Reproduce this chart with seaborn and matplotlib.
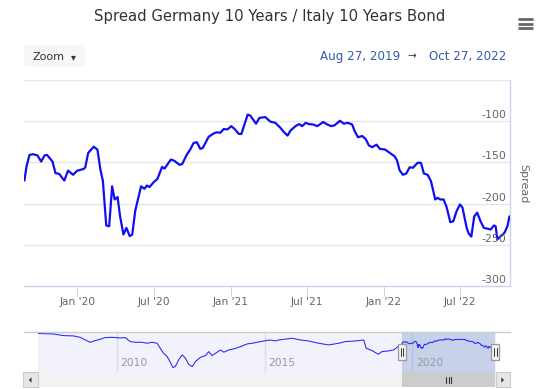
import numpy as np
import pandas as pd
import matplotlib
matplotlib.use("Agg")
import matplotlib.pyplot as plt
import matplotlib.dates as mdates
from matplotlib.patches import Rectangle, FancyBboxPatch, Polygon
from matplotlib.lines import Line2D
import seaborn as sns

# ---------------- data ----------------
title = "Spread Germany 10 Years / Italy 10 Years Bond"
y_label = "Spread"
range_start_text = "Aug 27, 2019"
range_end_text = "Oct 27, 2022"
range_start = "2019-08-27"
range_end = "2022-10-27"
y_ticks = [-300, -250, -200, -150, -100, -50]
y_tick_labels = ["-300", "-250", "-200", "-150", "-100", ""]

main_dates = [
    "2019-08-28", "2019-09-02", "2019-09-09", "2019-09-17", "2019-09-28", "2019-10-07",
    "2019-10-15", "2019-10-21", "2019-11-03", "2019-11-10", "2019-11-19", "2019-12-01",
    "2019-12-10", "2019-12-22", "2020-01-01", "2020-01-16", "2020-01-20", "2020-01-27",
    "2020-02-09", "2020-02-18", "2020-02-25", "2020-03-02", "2020-03-10", "2020-03-17",
    "2020-03-24", "2020-03-30", "2020-04-06", "2020-04-12", "2020-04-20", "2020-04-27",
    "2020-05-05", "2020-05-11", "2020-05-18", "2020-06-01", "2020-06-09", "2020-06-15",
    "2020-06-21", "2020-07-01", "2020-07-10", "2020-07-21", "2020-07-27", "2020-08-11",
    "2020-08-19", "2020-09-01", "2020-09-07", "2020-09-18", "2020-09-26", "2020-10-04",
    "2020-10-12", "2020-10-20", "2020-10-26", "2020-11-09", "2020-11-19", "2020-11-27",
    "2020-12-07", "2020-12-15", "2020-12-24", "2021-01-02", "2021-01-10", "2021-01-20",
    "2021-01-26", "2021-02-10", "2021-02-16", "2021-03-02", "2021-03-10", "2021-03-24",
    "2021-04-05", "2021-04-17", "2021-04-29", "2021-05-07", "2021-05-16", "2021-05-23",
    "2021-06-04", "2021-06-13", "2021-06-20", "2021-06-28", "2021-07-06", "2021-07-16",
    "2021-07-26", "2021-08-09", "2021-08-19", "2021-08-28", "2021-09-05", "2021-09-18",
    "2021-09-27", "2021-10-07", "2021-10-17", "2021-10-23", "2021-10-31", "2021-11-10",
    "2021-11-18", "2021-11-26", "2021-12-04", "2021-12-14", "2021-12-22", "2022-01-04",
    "2022-01-12", "2022-01-26", "2022-02-01", "2022-02-07", "2022-02-15", "2022-02-23",
    "2022-03-03", "2022-03-11", "2022-03-22", "2022-03-30", "2022-04-06", "2022-04-15",
    "2022-04-23", "2022-05-03", "2022-05-09", "2022-05-15", "2022-05-23", "2022-05-30",
    "2022-06-08", "2022-06-15", "2022-06-23", "2022-07-01", "2022-07-07", "2022-07-17",
    "2022-07-22", "2022-07-28", "2022-08-04", "2022-08-11", "2022-08-19", "2022-08-27",
    "2022-09-05", "2022-09-12", "2022-09-20", "2022-09-24", "2022-09-28", "2022-10-06",
    "2022-10-15", "2022-10-22", "2022-10-27",
]
main_values = [
    -172, -155, -141, -140, -141.5, -149,
    -141.5, -141, -149, -163, -164, -172,
    -160, -165, -160, -158, -156, -138.5,
    -131, -134.5, -158.5, -172.5, -226.5, -227.5,
    -179, -195, -192, -215.5, -237.5, -229.5,
    -239.5, -237.5, -209, -179, -182, -178,
    -180, -174, -170, -155.5, -157.5, -146.5,
    -148, -153, -152, -140.5, -134.5, -126.5,
    -125.5, -133.5, -132.5, -119, -115.5, -113.5,
    -114, -109.5, -110, -106, -109.5, -115.5,
    -115.5, -92, -93, -103, -96, -95,
    -100.5, -102, -108, -113, -117.5, -111.5,
    -106, -103.5, -106, -102, -103.5, -104,
    -106, -101, -104, -106, -105, -99.5,
    -103, -102, -104, -112, -119.5, -118,
    -121.5, -129.5, -131.5, -128.5, -133.5, -134.5,
    -137.5, -142.5, -147.5, -159.5, -165, -163.5,
    -156, -156.5, -150.5, -150.5, -163.5, -165,
    -173, -195, -193, -195, -195, -204,
    -222.5, -221.5, -209, -201, -205, -229.5,
    -236.5, -240, -215.5, -211, -221.5, -229.5,
    -230.5, -231.5, -226.5, -227.5, -243.5, -239.5,
    -235.5, -227.5, -215.5,
]

# earlier history shown only in the navigator
nav_dates = [
    "2007-04-27", "2007-11-06", "2008-03-10", "2008-07-13", "2008-10-01", "2008-12-24",
    "2009-02-03", "2009-04-06", "2009-06-07", "2009-08-08", "2009-10-30", "2010-02-10",
    "2010-04-13", "2010-06-14", "2010-08-15", "2010-11-06", "2011-01-08", "2011-03-11",
    "2011-05-12", "2011-06-21", "2011-07-31", "2011-09-13", "2011-10-23", "2011-11-25",
    "2011-12-24", "2012-02-03", "2012-03-18", "2012-04-27", "2012-06-06", "2012-07-20",
    "2012-08-29", "2012-10-31", "2013-01-01", "2013-02-10", "2013-03-22", "2013-05-05",
    "2013-07-06", "2013-08-15", "2013-10-16", "2013-12-17", "2014-03-11", "2014-05-30",
    "2014-07-31", "2014-10-01", "2014-12-24", "2015-03-14", "2015-05-16", "2015-06-25",
    "2015-12-06", "2016-03-17", "2016-06-28", "2016-10-31", "2017-03-04", "2017-07-06",
    "2017-09-28", "2018-01-30", "2018-05-12", "2018-06-10", "2018-08-22", "2018-11-07",
    "2018-12-24", "2019-03-18", "2019-05-19", "2019-07-20",
]
nav_values = [
    -10, -17, -43, -48, -69, -121,
    -147, -121, -100, -74, -69, -79,
    -74, -136, -147, -147, -162, -147,
    -162, -240, -318, -369, -457, -540,
    -525, -421, -343, -395, -488, -525,
    -447, -380, -354, -292, -354, -318,
    -266, -302, -266, -250, -214, -173,
    -162, -147, -126, -111, -126, -111,
    -85, -111, -126, -162, -188, -162,
    -136, -126, -111, -240, -276, -333,
    -292, -281, -266, -199,
]

# ---------------- style ----------------
sns.set_style("white")
plt.rcParams['font.family'] = ['DejaVu Sans']
plt.rcParams['axes.unicode_minus'] = False

W, H = 538, 389
fig = plt.figure(figsize=(W / 100, H / 100), dpi=100)


def fx(px):
    return px / W


def fy(py):
    return 1 - py / H


main_df = pd.DataFrame({"date": pd.to_datetime(main_dates), "spread": main_values})
nav_df = pd.concat(
    [pd.DataFrame({"date": pd.to_datetime(nav_dates), "spread": nav_values}), main_df],
    ignore_index=True)

LINE_BLUE = "#0f0ff5"

# ---------------- main chart ----------------
L, R, T, B = 24, 509.5, 80, 286
ax = fig.add_axes([fx(L), fy(B), (R - L) / W, (B - T) / H])
ax.set_axisbelow(True)
sns.lineplot(data=main_df, x="date", y="spread", ax=ax, color=LINE_BLUE,
             linewidth=1.6, estimator=None, zorder=3)
ax.set_xlim(pd.Timestamp(range_start), pd.Timestamp(range_end))
ax.set_ylim(-300, -50)
ax.set_yticks(y_ticks)
ax.tick_params(axis='y', length=0, labelleft=False, labelright=False, left=False, right=False)
ax.grid(axis='y', color='#e6e6e6', linewidth=1)
ax.grid(axis='x', visible=False)
for v, lab in zip(y_ticks, y_tick_labels):
    ax.annotate(lab, xy=(1, v), xycoords=ax.get_yaxis_transform(),
                xytext=(-2.2, 4.3), textcoords='offset points',
                ha='right', va='center', fontsize=7.9, color='#666666')
ax.xaxis.set_major_locator(mdates.MonthLocator(bymonth=[1, 7]))
ax.xaxis.set_major_formatter(mdates.DateFormatter("%b '%y"))
ax.tick_params(axis='x', direction='out', length=7, width=0.75, color='#ccd6eb',
               pad=1, labelsize=7.7, labelcolor='#666666', bottom=True)
for s in ['left', 'top']:
    ax.spines[s].set_visible(False)
for s in ['bottom', 'right']:
    ax.spines[s].set_color('#ccd6eb')
    ax.spines[s].set_linewidth(1)
ax.set_xlabel('')
ax.set_ylabel('')

# ---------------- navigator ----------------
NL, NR, NT, NB = 37.7, 495.5, 332.3, 371.5
axn = fig.add_axes([fx(NL), fy(NB), (NR - NL) / W, (NB - NT) / H])
axn.set_facecolor('#f2f2fc')
axn.set_axisbelow(True)
sns.lineplot(data=nav_df, x="date", y="spread", ax=axn, color='#2626f2',
             linewidth=0.75, estimator=None, zorder=3)
axn.set_xlim(nav_df["date"].min(), nav_df["date"].max())
axn.set_ylim(-602, 8.5)
axn.xaxis.set_major_locator(mdates.YearLocator(5))
axn.grid(axis='x', color='#dcdce6', linewidth=1)
axn.grid(axis='y', visible=False)
axn.tick_params(labelbottom=False, labelleft=False, length=0, bottom=False, left=False)
for s in axn.spines.values():
    s.set_visible(False)
axn.set_xlabel('')
axn.set_ylabel('')
for loc in axn.get_xticks():
    d = mdates.num2date(loc)
    if mdates.date2num(nav_df["date"].min()) < loc < mdates.date2num(nav_df["date"].max()):
        axn.annotate(str(d.year), xy=(loc, 0), xycoords=axn.get_xaxis_transform(),
                     xytext=(2.6, 5.8), textcoords='offset points',
                     ha='left', va='center', fontsize=7.7, color='#999999')
axn.axvspan(pd.Timestamp(range_start), pd.Timestamp(range_end),
            color=(102 / 255, 133 / 255, 194 / 255, 0.3), lw=0, zorder=2)

# handle positions from the navigator's own scale
h1 = axn.transData.transform((mdates.date2num(pd.Timestamp(range_start)), 0))[0]
h2 = axn.transData.transform((mdates.date2num(pd.Timestamp(range_end)), 0))[0]

# ---------------- overlay (chrome) ----------------
ov = fig.add_axes([0, 0, 1, 1], zorder=10)
ov.set_xlim(0, W)
ov.set_ylim(H, 0)
ov.axis('off')
ov.patch.set_visible(False)

# title
ov.text(270, 16.7, title, ha='center', va='center', fontsize=10.7, color='#333333')
# hamburger
for yy in [19.3, 23.5, 27.7]:
    ov.add_line(Line2D([518, 533], [yy, yy], color='#666666', linewidth=2.0,
                       solid_capstyle='butt'))
# zoom button
ov.add_patch(FancyBboxPatch((24, 45), 61, 21.7, boxstyle="round,pad=0,rounding_size=2",
                            fc='#f7f7f7', ec='none'))
ov.text(32.8, 56.7, "Zoom", ha='left', va='center', fontsize=8, color='#333333')
ov.text(73.4, 57.5, "\u25BE", ha='center', va='center', fontsize=7, color='#333333')
# range labels
ov.text(320, 56.3, range_start_text, ha='left', va='center', fontsize=8.6, color='#335cad')
ov.text(411.5, 56.3, "\u2192", ha='center', va='center', fontsize=7.5, color='#333333')
ov.text(506, 56.3, range_end_text, ha='right', va='center', fontsize=8.6, color='#335cad')
# axis title
ov.text(523.3, 183.3, y_label, ha='center', va='center', rotation=-90,
        fontsize=8, color='#666666')

# navigator top outline
ov.add_line(Line2D([24, 510], [332.3, 332.3], color='#cccccc', linewidth=1))

# scrollbar
SY, SH = 372, 15
ov.add_patch(Rectangle((37.7, SY), 458, SH, fc='#f2f2f2', ec='none'))
ov.add_patch(Rectangle((22.7, SY), 15, SH, fc='#e6e6e6', ec='#cccccc', lw=0.8))
ov.add_patch(Rectangle((495.5, SY), 14, SH, fc='#e6e6e6', ec='#cccccc', lw=0.8))
ov.add_patch(Polygon([[31.5, 377.3], [31.5, 382.7], [28.8, 380]], closed=True, fc='#333333', ec='none'))
ov.add_patch(Polygon([[501.3, 377.3], [501.3, 382.7], [504.0, 380]], closed=True, fc='#333333', ec='none'))
ov.add_patch(Rectangle((h1, SY), h2 - h1, SH, fc='#cccccc', ec='none'))
cx = (h1 + h2) / 2
for dx in [-2.5, 0, 2.5]:
    ov.add_line(Line2D([cx + dx, cx + dx], [376.5, 383], color='#333333', linewidth=0.8))

# navigator handles
for hx in [h1, h2]:
    ov.add_patch(Rectangle((hx - 4, 344), 8, 15.7, fc='#f2f2f2', ec='#999999', lw=0.9))
    for dx in [-1.3, 1.3]:
        ov.add_line(Line2D([hx + dx, hx + dx], [347.5, 356], color='#333333', linewidth=0.7))

fig.savefig("out.png", dpi=100)
